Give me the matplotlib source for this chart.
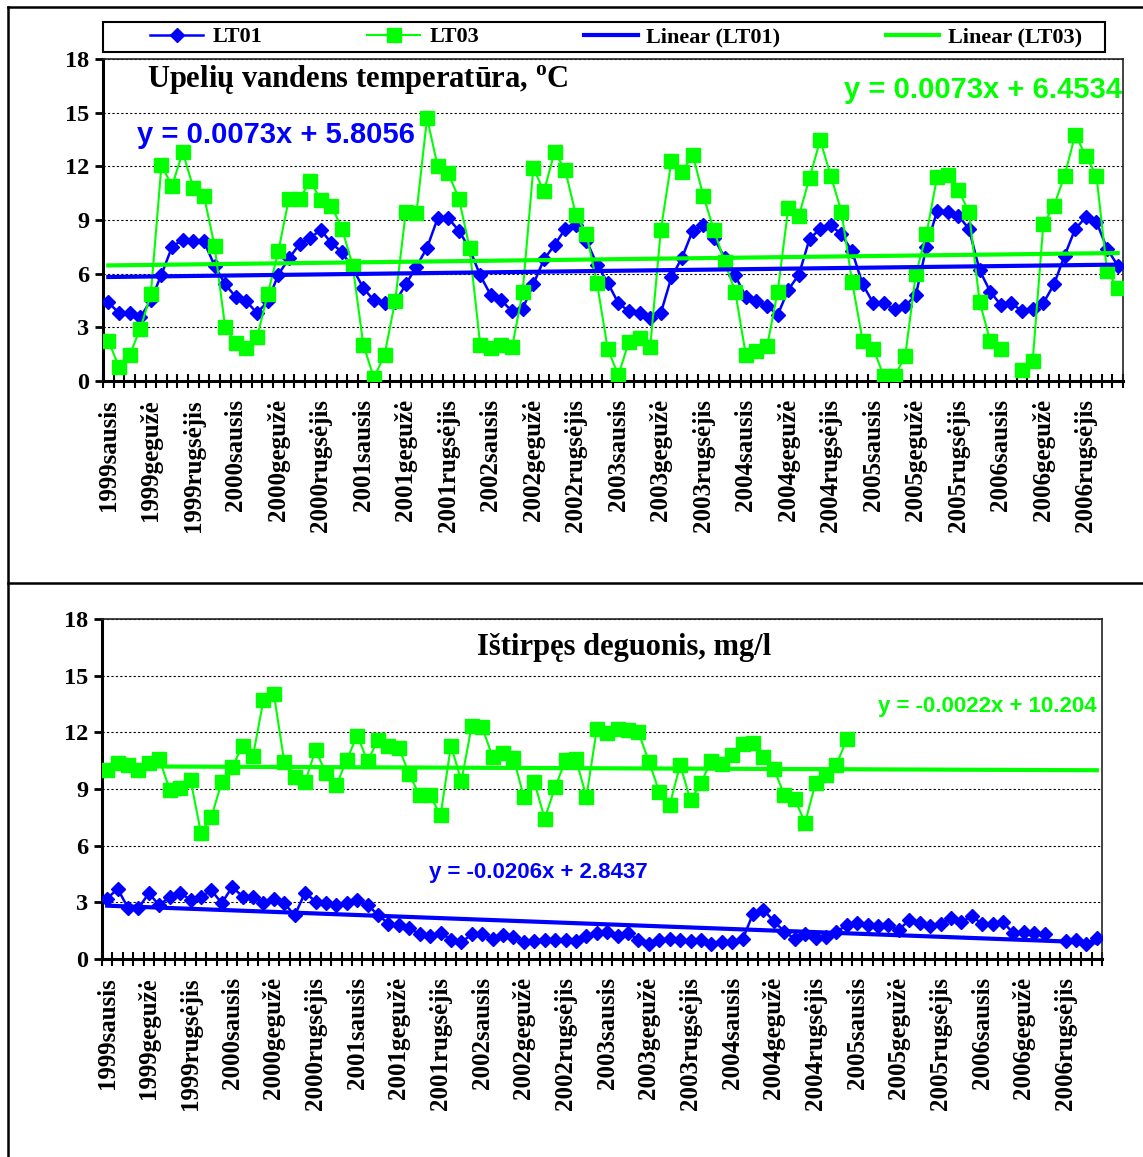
import numpy as np
import matplotlib.pyplot as plt
from matplotlib.lines import Line2D
from matplotlib.patches import Rectangle

W, H = 1143, 1157
BLUE = "#0000FF"
GREEN = "#00FF00"
nan = np.nan

years = list(range(1999, 2007))
month_names = ["sausis", "vasaris", "kovas", "balandis", "gegužė", "birželis",
               "liepa", "rugpjūtis", "rugsėjis", "spalis", "lapkritis", "gruodis"]
categories = [f"{y}{m}" for y in years for m in month_names]

# water temperature, monthly means
temp_lt01 = [4.4, 3.8, 3.8, 3.55, 4.5, 5.95, 7.5, 7.9, 7.8, 7.8, 6.45, 5.4,
             4.7, 4.45, 3.8, 4.45, 5.95, 6.85, 7.65, 8.0, 8.45, 7.7, 7.2, 6.3,
             5.2, 4.5, 4.35, 4.4, 5.4, 6.4, 7.45, 9.1, 9.1, 8.4, 7.4, 5.9,
             4.8, 4.5, 3.9, 4.05, 5.4, 6.8, 7.6, 8.5, 8.7, 7.85, 6.5, 5.5,
             4.35, 3.9, 3.8, 3.5, 3.8, 5.8, 6.9, 8.4, 8.7, 8.0, 6.9, 5.9,
             4.7, 4.45, 4.2, 3.7, 5.1, 5.95, 7.95, 8.5, 8.7, 8.2, 7.25, 5.4,
             4.35, 4.35, 4.0, 4.2, 4.8, 7.5, 9.5, 9.45, 9.25, 8.5, 6.2, 5.0,
             4.25, 4.35, 3.9, 4.05, 4.35, 5.4, 7.0, 8.5, 9.15, 8.9, 7.4, 6.45]
temp_lt03 = [2.25, 0.8, 1.45, 2.9, 4.85, 12.05, 10.9, 12.8, 10.8, 10.35, 7.55, 3.0,
             2.15, 1.85, 2.45, 4.85, 7.25, 10.2, 10.15, 11.2, 10.1, 9.8, 8.5, 6.45,
             2.03, 0.17, 1.47, 4.48, 9.46, 9.39, 14.7, 12.0, 11.6, 10.2, 7.45, 2.03,
             1.84, 2.03, 1.88, 5.0, 11.9, 10.6, 12.8, 11.8, 9.3, 8.2, 5.46, 1.8,
             0.32, 2.2, 2.43, 1.88, 8.44, 12.3, 11.7, 12.66, 10.35, 8.44, 6.67, 5.0,
             1.47, 1.7, 1.93, 5.0, 9.68, 9.24, 11.36, 13.46, 11.47, 9.46, 5.56, 2.25,
             1.8, 0.26, 0.26, 1.38, 5.97, 8.2, 11.4, 11.54, 10.67, 9.46, 4.44, 2.25,
             1.8, nan, 0.63, 1.13, 8.75, 9.8, 11.47, 13.77, 12.6, 11.47, 6.15, 5.2]

# dissolved oxygen, monthly means
oxy_lt01 = [3.2, 3.72, 2.7, 2.7, 3.48, 2.84, 3.3, 3.48, 3.15, 3.3, 3.63, 2.96,
            3.82, 3.3, 3.3, 2.99, 3.19, 2.95, 2.31, 3.52, 3.04, 2.97, 2.84, 2.97,
            3.1, 2.86, 2.34, 1.87, 1.78, 1.63, 1.32, 1.2, 1.38, 1.03, 0.9, 1.3,
            1.3, 1.05, 1.28, 1.14, 0.92, 0.96, 1.03, 0.98, 1.03, 0.94, 1.2, 1.39,
            1.44, 1.21, 1.39, 1.0, 0.79, 1.0, 1.04, 1.0, 0.97, 1.0, 0.79, 0.92,
            0.92, 1.04, 2.4, 2.6, 2.0, 1.45, 1.07, 1.3, 1.12, 1.14, 1.45, 1.78,
            1.88, 1.78, 1.76, 1.78, 1.54, 2.07, 1.91, 1.73, 1.85, 2.16, 1.94, 2.28,
            1.85, 1.85, 1.95, 1.36, 1.45, 1.4, 1.34, nan, 0.95, 1.0, 0.82, 1.12]
oxy_lt03 = [10.0, 10.4, 10.25, 10.0, 10.37, 10.6, 8.96, 9.07, 9.49, 6.67, 7.52, 9.37,
            10.16, 11.3, 10.77, 13.7, 14.03, 10.42, 9.63, 9.37, 11.07, 9.84, 9.19, 10.55,
            11.83, 10.48, 11.6, 11.3, 11.18, 9.77, 8.66, 8.66, 7.6, 11.3, 9.42, 12.36,
            12.27, 10.69, 10.9, 10.65, 8.57, 9.37, 7.43, 9.1, 10.51, 10.6, 8.57, 12.18,
            11.95, 12.18, 12.13, 12.0, 10.45, 8.86, 8.15, 10.28, 8.4, 9.32, 10.5, 10.3,
            10.8, 11.36, 11.42, 10.7, 10.07, 8.68, 8.46, 7.22, 9.32, 9.75, 10.28, 11.63,
            nan, nan, nan, nan, nan, nan, nan, nan, nan, nan, nan, nan,
            nan, nan, nan, nan, nan, nan, nan, nan, nan, nan, nan, nan]

# linear trend coefficients (slope, intercept)
temp_fit01 = (0.0073, 5.8056)
temp_fit03 = (0.0073, 6.4534)
oxy_fit01 = (-0.0206, 2.8437)
oxy_fit03 = (-0.0022, 10.204)

SERIF = "Liberation Serif"
EQ_FONT = "Liberation Sans"
plt.rcParams["font.family"] = [SERIF, "DejaVu Serif"]
plt.rcParams["font.weight"] = "bold"
plt.rcParams["mathtext.fontset"] = "custom"
plt.rcParams["mathtext.rm"] = SERIF
plt.rcParams["mathtext.bf"] = SERIF + ":bold"


def equation(fit):
    a, b = fit
    return f"y = {a:.4f}x + {b:g}".replace("+ -", "- ")


def draw_panel(ax, lt01, lt03, fit01, fit03):
    x = np.arange(1, len(categories) + 1)
    ax.plot(x, lt01, color=BLUE, lw=1.8, marker="D", ms=7, mec=BLUE, label="LT01", zorder=3)
    ax.plot(x, lt03, color=GREEN, lw=1.5, marker="s", ms=9.5, mec=GREEN, label="LT03", zorder=4)
    ax.plot(x, fit01[0] * x + fit01[1], color=BLUE, lw=3, label="Linear (LT01)", zorder=5)
    ax.plot(x, fit03[0] * x + fit03[1], color=GREEN, lw=3, label="Linear (LT03)", zorder=5)

    ax.set_xlim(0.5, len(x) + 0.5)
    ax.set_ylim(0, 18)
    ax.set_yticks(np.arange(0, 19, 3))
    ax.yaxis.grid(True, color="black", ls=(0, (2, 2)), lw=0.8)
    ax.set_axisbelow(True)

    ax.set_xticks(x[::4])
    ax.set_xticklabels(categories[::4], rotation=90, fontsize=18, fontweight="bold")
    ax.set_xticks(np.arange(0.5, len(x) + 1), minor=True)
    ax.tick_params(axis="x", which="major", length=0, pad=13)
    ax.tick_params(axis="x", which="minor", direction="inout", length=10, width=1.5)
    ax.tick_params(axis="y", direction="out", length=6, width=2, pad=4, labelsize=17.5)
    for lbl in ax.get_yticklabels():
        lbl.set_fontweight("bold")

    for side in ("left", "bottom"):
        ax.spines[side].set_linewidth(2.2)
    for side in ("top", "right"):
        ax.spines[side].set_linewidth(1.2)
        ax.spines[side].set_color("#222222")


fig = plt.figure(figsize=(W / 100, H / 100), dpi=100)

ax1 = fig.add_axes([103 / W, 1 - 381 / H, 1020 / W, 322 / H])
draw_panel(ax1, temp_lt01, temp_lt03, temp_fit01, temp_fit03)
ax1.text(0.043, 0.935, "Upelių vandens temperatūra, $^{\\mathrm{o}}$C", transform=ax1.transAxes,
         fontsize=22, fontweight="bold", va="center", ha="left")
ax1.text(0.033, 0.764, equation(temp_fit01), transform=ax1.transAxes, color=BLUE,
         family=EQ_FONT, fontsize=21, fontweight="bold", va="center", ha="left")
ax1.text(0.999, 0.904, equation(temp_fit03), transform=ax1.transAxes, color=GREEN,
         family=EQ_FONT, fontsize=21, fontweight="bold", va="center", ha="right")

ax2 = fig.add_axes([102 / W, 1 - 959 / H, 1000 / W, 340 / H])
draw_panel(ax2, oxy_lt01, oxy_lt03, oxy_fit01, oxy_fit03)
ax2.text(0.522, 0.915, "Ištirpęs deguonis, mg/l", transform=ax2.transAxes,
         fontsize=22, fontweight="bold", va="center", ha="center")
ax2.text(0.995, 0.744, equation(oxy_fit03), transform=ax2.transAxes, color=GREEN,
         family=EQ_FONT, fontsize=16, fontweight="bold", va="center", ha="right")
ax2.text(0.327, 0.253, equation(oxy_fit01), transform=ax2.transAxes, color=BLUE,
         family=EQ_FONT, fontsize=16, fontweight="bold", va="center", ha="left")

# legend box across the top, entries spread evenly inside it
fig.add_artist(Rectangle((103 / W, 1 - 52 / H), 1002 / W, 30 / H, transform=fig.transFigure,
                         facecolor="white", edgecolor="black", lw=1.5))
handles, labels = ax1.get_legend_handles_labels()
leg = fig.legend(handles, labels, loc="center left",
                 bbox_to_anchor=(150 / W, 1 - 52 / H, 932 / W, 30 / H),
                 ncol=4, mode="expand", frameon=False,
                 prop={"family": SERIF, "weight": "bold", "size": 16},
                 handlelength=2.4, handletextpad=0.4, borderpad=0, borderaxespad=0)

# outer frame of the two panels
for coords in (([8 / W, 8 / W], [0, 1 - 7 / H]),
               ([8 / W, 1], [1 - 7 / H, 1 - 7 / H]),
               ([8 / W, 1], [1 - 583 / H, 1 - 583 / H])):
    fig.add_artist(Line2D(*coords, color="black", lw=1.8))

fig.savefig("out.png", dpi=100)
